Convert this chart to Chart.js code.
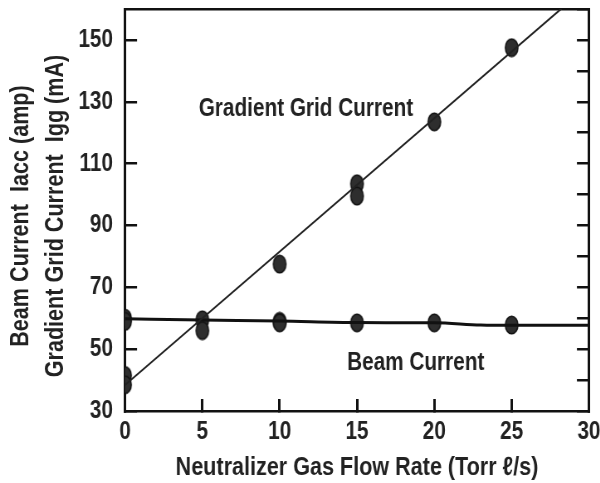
<!DOCTYPE html>
<html>
<head>
<meta charset="utf-8">
<script src="https://cdn.jsdelivr.net/npm/chart.js@4"></script>
<style>
  html, body { margin: 0; padding: 0; background: #fff; overflow: hidden; }
  /* the original lettering is a condensed face; draw wider and squeeze */
  #wrap { width: 723px; height: 483px; transform: scaleX(0.83); transform-origin: 0 0; }
</style>
</head>
<body>
<div id="wrap"><canvas id="flow-chart"></canvas></div>
<script>
// values
var xTicks = [0, 5, 10, 15, 20, 25, 30];
var yTicks = [30, 50, 70, 90, 110, 130, 150];

var gradientX = [0, 0, 5, 10, 15, 15, 20, 25];
var gradientY = [41.5, 38.5, 56, 77.5, 103.5, 99.5, 123.5, 147.5];

var beamX = [0, 0, 5, 10, 10, 15, 20, 25];
var beamY = [60, 59, 59.5, 59, 58.5, 58.5, 58.5, 57.8];

// fitted straight line through gradient grid current
var fitX = [0, 30];
var fitY = [38.4, 167.8];

// smooth trend for beam current
var beamLineX = [0, 5, 10, 15, 20, 23, 25, 30];
var beamLineY = [59.8, 59.4, 59.1, 58.6, 58.5, 57.8, 57.7, 57.7];

var labelTexts = ['Gradient Grid Current', 'Beam Current'];
var labelX = [11.7, 18.8];
var labelY = [127.5, 45.5];

var yTitle = ['Beam Current  Iacc (amp)', 'Gradient Grid Current  Igg (mA)'];

var SQ = 0.83;  // horizontal squeeze applied by css
var FONT = "'Liberation Sans', Arial, sans-serif";
var INK = '#222';

function pts(xs, ys) {
    return xs.map(function (x, i) { return { x: x, y: ys[i] }; });
}

// elliptical marker like the original plot
var marker = document.createElement('canvas');
marker.width = 19; marker.height = 20;
(function () {
    var c = marker.getContext('2d');
    c.beginPath();
    c.ellipse(9.5, 10, 7.6, 8.7, 0, 0, Math.PI * 2);
    c.fillStyle = '#2e2e2e';
    c.fill();
    c.lineWidth = 1.5;
    c.strokeStyle = '#111';
    c.stroke();
})();

var textLabels = {
    id: 'textLabels',
    afterDatasetsDraw: function (chart) {
        var ctx = chart.ctx, xs = chart.scales.x, ys = chart.scales.y;
        ctx.save();
        ctx.font = 'bold 25px ' + FONT;
        ctx.fillStyle = INK;
        ctx.textAlign = 'center';
        ctx.textBaseline = 'middle';
        labelTexts.forEach(function (t, i) {
            ctx.fillText(t, xs.getPixelForValue(labelX[i]), ys.getPixelForValue(labelY[i]));
        });
        ctx.restore();

        // rotated y title, kept upright-looking after the squeeze
        var cy = (ys.top + ys.bottom) / 2 + 6;
        var cols = [25.3, 67.5];
        ctx.save();
        ctx.font = 'bold 26px ' + FONT;
        ctx.fillStyle = INK;
        ctx.textAlign = 'center';
        ctx.textBaseline = 'middle';
        yTitle.forEach(function (t, i) {
            ctx.save();
            ctx.translate(cols[i], cy);
            ctx.rotate(-Math.PI / 2);
            ctx.scale(SQ, 1 / SQ);
            ctx.fillText(t, 0, 0);
            ctx.restore();
        });
        ctx.restore();
    }
};

function noPad(s) {
    s.paddingLeft = 0; s.paddingRight = 0; s.paddingTop = 0; s.paddingBottom = 0;
}

var xGrid = { drawOnChartArea: false, drawTicks: true, tickLength: -12, color: '#111', lineWidth: 3 };
var yGrid = { drawOnChartArea: false, drawTicks: true, tickLength: -14.5, color: '#111', lineWidth: 2.5 };
var xBorder = { display: true, color: '#111', width: 2.5 };
var yBorder = { display: true, color: '#111', width: 3 };

var ctx = document.getElementById('flow-chart').getContext('2d');
var flowChart = new Chart(ctx, {
    type: 'scatter',
    data: {
        datasets: [{
            type: 'line',
            data: pts(fitX, fitY),
            borderColor: INK,
            borderWidth: 2,
            pointRadius: 0
        }, {
            type: 'line',
            data: pts(beamLineX, beamLineY),
            borderColor: '#111',
            borderWidth: 3,
            pointRadius: 0,
            cubicInterpolationMode: 'monotone'
        }, {
            data: pts(gradientX, gradientY),
            pointStyle: marker
        }, {
            data: pts(beamX, beamY),
            pointStyle: marker
        }]
    },
    options: {
        responsive: true,
        maintainAspectRatio: false,
        animation: false,
        layout: { padding: { top: 9, right: 13.4, left: 0, bottom: 0 } },
        plugins: { legend: { display: false }, tooltip: { enabled: false } },
        scales: {
            x: {
                type: 'linear', position: 'bottom',
                min: 0, max: 30,
                afterFit: function (s) { s.height = 72; noPad(s); },
                grid: xGrid, border: xBorder,
                ticks: { stepSize: 5, color: INK, padding: 18, font: { family: FONT, size: 25, weight: 'bold' } },
                title: {
                    display: true, text: 'Neutralizer Gas Flow Rate (Torr \u2113/s)', color: INK,
                    padding: { top: 0, bottom: 0 },
                    font: { family: FONT, size: 26, weight: 'bold' }
                }
            },
            x2: {
                type: 'linear', position: 'top',
                min: 0, max: 30,
                afterFit: function (s) { s.height = 0; noPad(s); },
                grid: { display: false, drawTicks: false },
                border: xBorder,
                ticks: { display: false }
            },
            y: {
                type: 'linear', position: 'left',
                min: 30, max: 160,
                afterFit: function (s) { s.width = 150.6; noPad(s); },
                grid: yGrid, border: yBorder,
                ticks: {
                    stepSize: 10, color: INK, padding: 29,
                    font: { family: FONT, size: 25, weight: 'bold' },
                    callback: function (v) { return yTicks.indexOf(v) >= 0 ? v : ''; }
                }
            },
            y2: {
                type: 'linear', position: 'right',
                min: 30, max: 160,
                afterFit: function (s) { s.width = 0; noPad(s); },
                grid: yGrid, border: yBorder,
                ticks: { stepSize: 10, display: false }
            }
        }
    },
    plugins: [textLabels]
});
</script>
</body>
</html>
